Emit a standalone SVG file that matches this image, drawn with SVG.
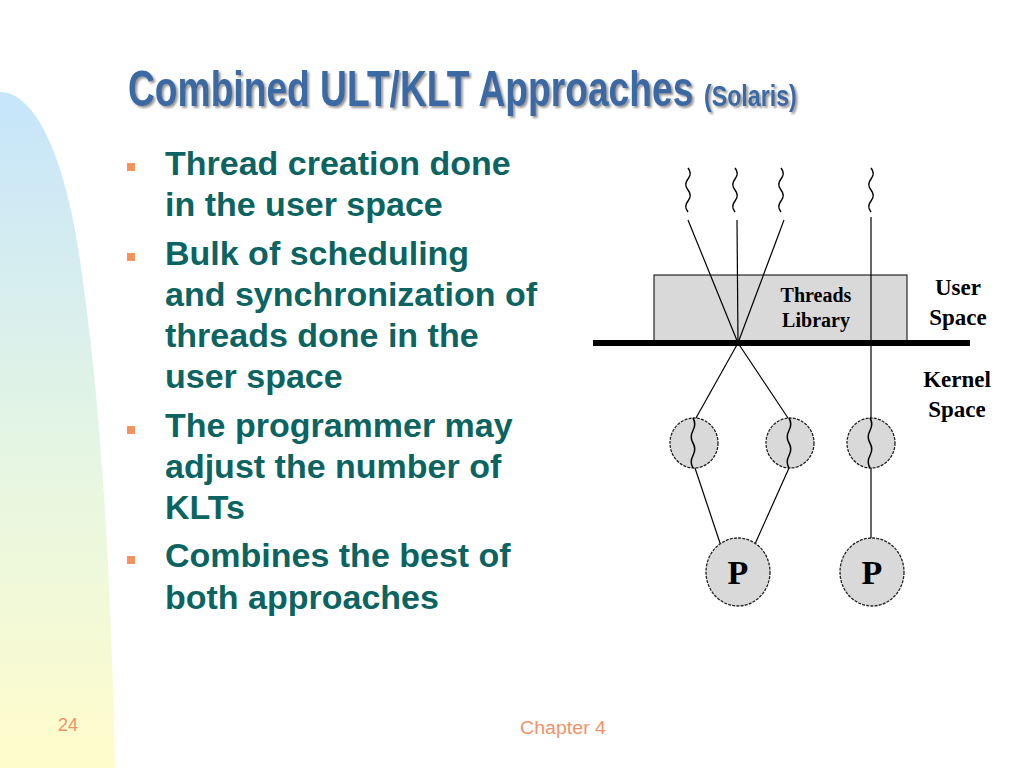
<svg xmlns="http://www.w3.org/2000/svg" width="1024" height="768" viewBox="0 0 1024 768">
<style>
.title{font-family:"Liberation Sans",Arial,sans-serif;font-weight:bold;fill:#3b69a4}
.body{font-family:"Liberation Sans",Arial,sans-serif;font-weight:bold;font-size:34px;fill:#0b6461}
.bullet{fill:#f4925c}
.foot{font-family:"Liberation Sans",Arial,sans-serif;font-size:18px;fill:#f0926a}
.lbl{font-family:"Liberation Serif","Times New Roman",serif;font-weight:bold;fill:#000}
.ln{stroke:#000;stroke-width:1.2;fill:none}
.sq{stroke:#000;stroke-width:1.5;fill:none}
.node{fill:#d9d9d9;stroke:#222;stroke-width:1.3;stroke-dasharray:3 1.2}
</style>
<defs>
<linearGradient id="bg" x1="0" y1="0" x2="0" y2="1">
<stop offset="0" stop-color="#c6e5fb"/>
<stop offset="0.55" stop-color="#e6f6e2"/>
<stop offset="1" stop-color="#fffccb"/>
</linearGradient>
<filter id="shadow" x="-5%" y="-20%" width="110%" height="150%">
<feDropShadow dx="2" dy="2" stdDeviation="0.8" flood-color="#8c8c8c" flood-opacity="0.9"/>
</filter>
<path id="ult" d="M0,0 q4.5,5.5 0,11 t0,11 t0,11 t0,11"/>
<path id="klt" d="M0,0 q3.5,6 0,12.5 t0,12.5 t0,12.5 t0,12.5"/>
</defs>
<rect width="1024" height="768" fill="#fff"/>
<path d="M0,92 C30,92 62,140 80,260 C96,370 110,520 115,768 L0,768 Z" fill="url(#bg)"/>

<g id="title" filter="url(#shadow)">
<text class="title" transform="translate(128,106) scale(0.744,1)" x="0" y="0" font-size="50">Combined ULT/KLT Approaches</text>
<text class="title" transform="translate(704,106) scale(0.8,1)" x="0" y="0" font-size="29">(Solaris)</text>
</g>

<g id="bullets">
<rect class="bullet" x="127" y="163" width="8" height="8"/>
<rect class="bullet" x="127" y="253" width="8" height="8"/>
<rect class="bullet" x="127" y="426" width="8" height="8"/>
<rect class="bullet" x="127" y="556" width="8" height="8"/>
<text class="body" x="165" y="175">Thread creation done</text>
<text class="body" x="165" y="216">in the user space</text>
<text class="body" x="165" y="265">Bulk of scheduling</text>
<text class="body" x="165" y="306">and synchronization of</text>
<text class="body" x="165" y="347">threads done in the</text>
<text class="body" x="165" y="388">user space</text>
<text class="body" x="165" y="437">The programmer may</text>
<text class="body" x="165" y="478">adjust the number of</text>
<text class="body" x="165" y="519">KLTs</text>
<text class="body" x="165" y="567">Combines the best of</text>
<text class="body" x="165" y="609">both approaches</text>
</g>

<g id="footer">
<text class="foot" x="58" y="731" font-size="17">24</text>
<text class="foot" x="520" y="734" textLength="86" lengthAdjust="spacingAndGlyphs">Chapter 4</text>
</g>

<g id="threads-library">
<rect x="654" y="275" width="253" height="68" fill="#d9d9d9" stroke="#000" stroke-width="1"/>
<text class="lbl" x="816" y="302" font-size="20" text-anchor="middle">Threads</text>
<text class="lbl" x="816" y="327" font-size="20" text-anchor="middle">Library</text>
</g>

<g id="space-labels">
<text class="lbl" x="958" y="295" font-size="23" text-anchor="middle">User</text>
<text class="lbl" x="958" y="325" font-size="23" text-anchor="middle">Space</text>
<text class="lbl" x="957" y="387" font-size="23" text-anchor="middle">Kernel</text>
<text class="lbl" x="957" y="417" font-size="23" text-anchor="middle">Space</text>
</g>

<g id="user-threads">
<use href="#ult" class="sq" x="688" y="168"/>
<use href="#ult" class="sq" x="735" y="168"/>
<use href="#ult" class="sq" x="781" y="168"/>
<use href="#ult" class="sq" x="871" y="168"/>
</g>

<g id="connectors">
<line class="ln" x1="688" y1="220" x2="738" y2="343"/>
<line class="ln" x1="737" y1="220" x2="738" y2="343"/>
<line class="ln" x1="784" y1="220" x2="738" y2="343"/>
<line class="ln" x1="871" y1="217" x2="871" y2="418"/>
<line class="ln" x1="738" y1="343" x2="696" y2="418"/>
<line class="ln" x1="738" y1="343" x2="788" y2="418"/>
<line class="ln" x1="695" y1="468" x2="720" y2="543"/>
<line class="ln" x1="789" y1="468" x2="755" y2="544"/>
<line class="ln" x1="871" y1="468" x2="871" y2="539"/>
</g>

<g id="boundary">
<line x1="593" y1="343" x2="970" y2="343" stroke="#000" stroke-width="6"/>
</g>

<g id="klt1">
<ellipse class="node" cx="694" cy="443" rx="24" ry="25"/>
<use href="#klt" class="sq" x="693" y="418"/>
</g>
<g id="klt2">
<ellipse class="node" cx="790" cy="443" rx="24" ry="25"/>
<use href="#klt" class="sq" x="789" y="418"/>
</g>
<g id="klt3">
<ellipse class="node" cx="871" cy="443" rx="24" ry="25"/>
<use href="#klt" class="sq" x="870" y="418"/>
</g>

<g id="proc1">
<ellipse class="node" cx="738" cy="572" rx="32" ry="34"/>
<text class="lbl" x="738" y="584" font-size="34" text-anchor="middle">P</text>
</g>
<g id="proc2">
<ellipse class="node" cx="872" cy="572" rx="32" ry="34"/>
<text class="lbl" x="872" y="584" font-size="34" text-anchor="middle">P</text>
</g>
</svg>
